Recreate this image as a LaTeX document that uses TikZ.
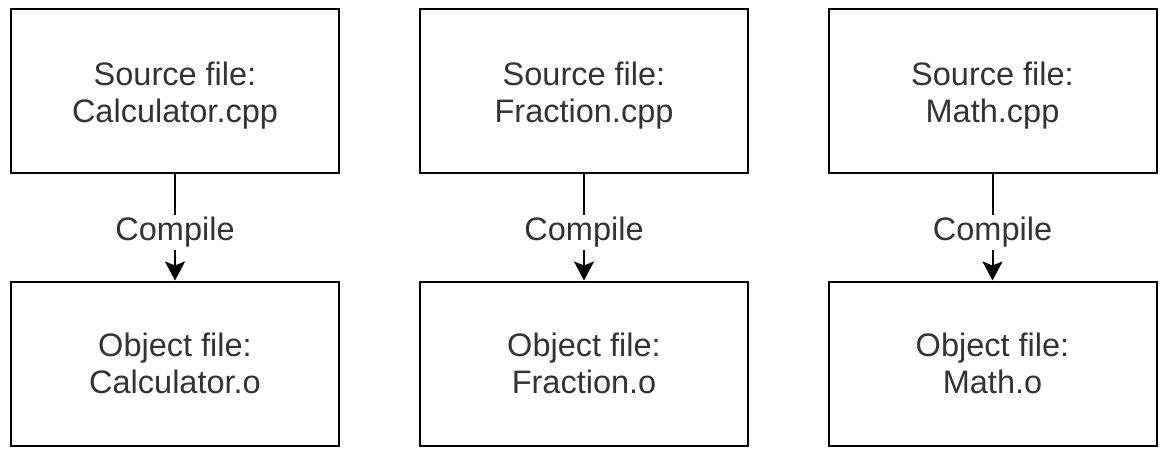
\documentclass[tikz,border=0pt]{standalone}
\usepackage{fontspec}
\setmainfont{Liberation Sans}
\usetikzlibrary{arrows.meta}
\newcommand{\lowerstrut}{\rule{0pt}{32pt}}
\begin{document}
\begin{tikzpicture}[x=1pt,y=-1pt,
  box/.style={draw, line width=2pt, minimum width=328pt, minimum height=164pt,
    align=center, font=\fontsize{32.5}{37}\selectfont, text=black!80, inner sep=0pt},
  lbl/.style={fill=white, font=\fontsize{32.5}{37}\selectfont, text=black!80, inner sep=2pt},
  conn/.style={line width=2pt, -{Stealth[length=19pt,width=20pt,inset=4pt]}}]
\useasboundingbox (0,0) rectangle (1174,459);
\node[box] (s1) at (175,91) {\lowerstrut Source file:\\Calculator.cpp};
\node[box] (s2) at (584,91) {\lowerstrut Source file:\\Fraction.cpp};
\node[box] (s3) at (992.5,91) {\lowerstrut Source file:\\Math.cpp};
\node[box] (o1) at (175,363.5) {Object file:\\Calculator.o};
\node[box] (o2) at (584,363.5) {Object file:\\Fraction.o};
\node[box] (o3) at (992.5,363.5) {Object file:\\Math.o};
\draw[conn] (s1) -- node[lbl, pos=0.55] {Compile} (o1);
\draw[conn] (s2) -- node[lbl, pos=0.55] {Compile} (o2);
\draw[conn] (s3) -- node[lbl, pos=0.55] {Compile} (o3);
\end{tikzpicture}
\end{document}
